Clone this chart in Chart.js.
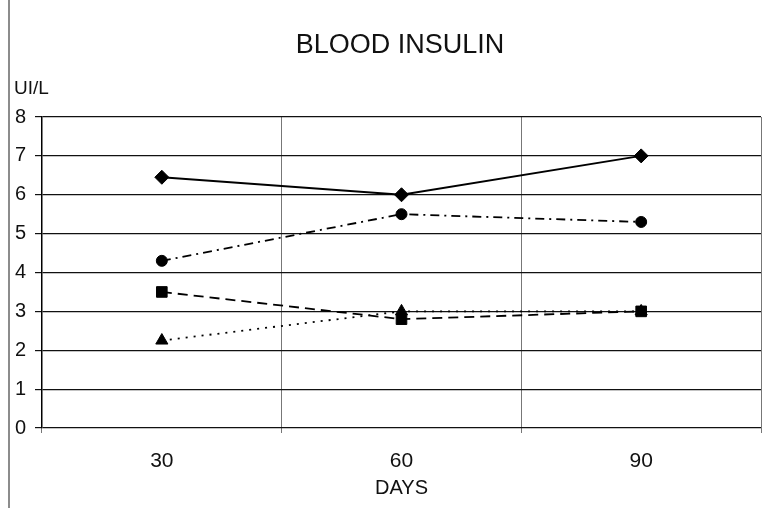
<!DOCTYPE html>
<html>
<head>
<meta charset="utf-8">
<script src="https://cdn.jsdelivr.net/npm/chart.js@4/dist/chart.umd.min.js"></script>
<style>
  html, body { margin: 0; padding: 0; background: #fff; }
  #wrap { width: 777px; height: 508px; }
</style>
</head>
<body>
<div id="wrap"><canvas id="insulinChart" width="777" height="508"></canvas></div>
<script>
var days = ['30', '60', '90'];
var serieDiamond = [6.45, 6.0, 7.0];
var serieCircle = [4.3, 5.5, 5.3];
var serieSquare = [3.5, 2.8, 3.0];
var serieTriangle = [2.25, 3.0, 3.0];
var yTicks = [0, 1, 2, 3, 4, 5, 6, 7, 8];

var font = "'Liberation Sans', Arial, sans-serif";

// titre + unite + bord gauche du scan
var textPlugin = {
    id: 'textPlugin',
    afterDraw: function (chart) {
        var c = chart.ctx;
        c.save();
        c.fillStyle = '#111';
        c.textBaseline = 'middle';
        c.font = '27px ' + font;
        c.textAlign = 'center';
        c.fillText('BLOOD INSULIN', 400, 46);
        c.font = '19px ' + font;
        c.textAlign = 'left';
        c.fillText('UI/L', 14, 89);
        c.strokeStyle = '#666';
        c.lineWidth = 1.5;
        c.beginPath();
        c.moveTo(9, 0);
        c.lineTo(9, 508);
        c.stroke();
        c.restore();
    }
};

function serie(data, style, radius, dash) {
    return {
        data: data,
        borderColor: '#000',
        backgroundColor: '#000',
        borderWidth: 1.8,
        borderDash: dash,
        pointStyle: style,
        pointRadius: radius,
        pointBackgroundColor: '#000',
        pointBorderColor: '#000',
        pointBorderWidth: 1,
        tension: 0
    };
}

var ctx = document.getElementById('insulinChart').getContext('2d');
var myChart = new Chart(ctx, {
    type: 'line',
    data: {
        labels: days,
        datasets: [
            serie(serieDiamond, 'rectRot', 7, []),
            serie(serieCircle, 'circle', 5.5, [9, 5, 2, 5]),
            serie(serieSquare, 'rect', 7.5, [10, 6]),
            serie(serieTriangle, 'triangle', 7, [2, 6])
        ]
    },
    plugins: [textPlugin],
    options: {
        responsive: false,
        animation: false,
        layout: { padding: { top: 117, right: 16, bottom: 0, left: 0 } },
        plugins: {
            legend: { display: false },
            tooltip: { enabled: false },
            title: { display: false }
        },
        scales: {
            x: {
                offset: true,
                afterFit: function (s) { s.height = 80; },
                grid: { offset: true, color: '#777', lineWidth: 1, tickLength: 5, drawTicks: true },
                border: { display: false },
                ticks: { color: '#111', font: { family: font, size: 21 }, padding: 16 },
                title: { display: true, text: 'DAYS', color: '#111', font: { family: font, size: 20 }, padding: { top: 8, bottom: 8 } }
            },
            y: {
                min: 0,
                max: 8,
                afterFit: function (s) { s.width = 42; },
                afterBuildTicks: function (s) { s.ticks = yTicks.map(function (v) { return { value: v }; }); },
                grid: { color: '#111', lineWidth: 1.2, tickLength: 7 },
                border: { display: true, color: '#000', width: 1.5 },
                ticks: { color: '#111', font: { family: font, size: 20 }, padding: 9 }
            }
        }
    }
});
</script>
</body>
</html>
